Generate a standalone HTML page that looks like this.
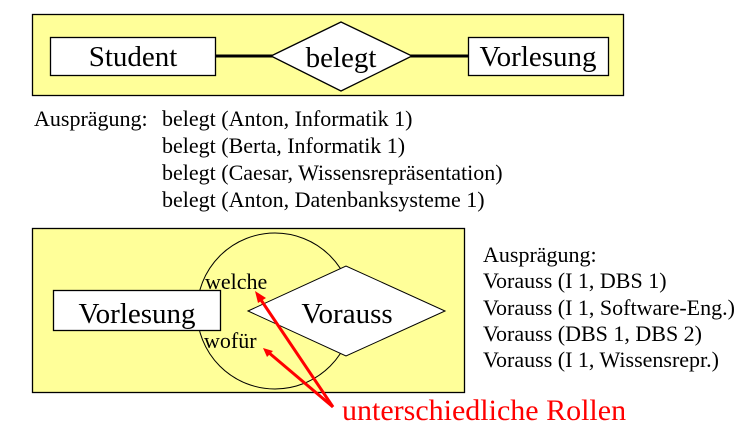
<!DOCTYPE html>
<html><head><meta charset="utf-8"><style>
body{margin:0;width:745px;height:441px;background:#fff;overflow:hidden}
</style></head><body>
<svg width="745" height="441" xmlns="http://www.w3.org/2000/svg" font-family="Liberation Serif, serif">
<rect x="32.5" y="14.5" width="591" height="81" fill="#ffff99" stroke="#000" stroke-width="1.3"/>
<line x1="215" y1="56" x2="468" y2="56" stroke="#000" stroke-width="3"/>
<rect x="50.5" y="37.5" width="165" height="38" fill="#fff" stroke="#000" stroke-width="1.3"/>
<polygon points="271,56 341,22 412,56 341,91" fill="#fff" stroke="#000" stroke-width="1.3"/>
<rect x="468.5" y="37.5" width="140" height="38" fill="#fff" stroke="#000" stroke-width="1.3"/>
<text x="133" y="66" font-size="29" text-anchor="middle">Student</text>
<text x="341" y="67" font-size="29" text-anchor="middle">belegt</text>
<text x="538" y="66" font-size="29" text-anchor="middle">Vorlesung</text>
<g font-size="22">
<text x="34" y="126">Ausprägung:</text>
<text x="162" y="126">belegt (Anton, Informatik 1)</text>
<text x="162" y="153">belegt (Berta, Informatik 1)</text>
<text x="162" y="180">belegt (Caesar, Wissensrepräsentation)</text>
<text x="162" y="207">belegt (Anton, Datenbanksysteme 1)</text>
<text x="483" y="262">Ausprägung:</text>
<text x="483" y="288">Vorauss (I 1, DBS 1)</text>
<text x="483" y="315">Vorauss (I 1, Software-Eng.)</text>
<text x="483" y="341">Vorauss (DBS 1, DBS 2)</text>
<text x="483" y="367">Vorauss (I 1, Wissensrepr.)</text>
</g>
<rect x="32.5" y="228.5" width="432" height="164" fill="#ffff99" stroke="#000" stroke-width="1.3"/>
<circle cx="275" cy="311" r="78" fill="none" stroke="#000" stroke-width="1"/>
<polygon points="248,311 346,266 445,311 346,356" fill="#fff" stroke="#000" stroke-width="1"/>
<rect x="53.5" y="290.5" width="167" height="40" fill="#fff" stroke="#000" stroke-width="1.3"/>
<text x="137" y="323" font-size="29" text-anchor="middle">Vorlesung</text>
<text x="347" y="323" font-size="29" text-anchor="middle">Vorauss</text>
<text x="205" y="289" font-size="22">welche</text>
<text x="204" y="348" font-size="22">wofür</text>
<g stroke="#f00" stroke-width="3" fill="#f00">
<line x1="333" y1="407" x2="259" y2="297"/>
<line x1="333" y1="407" x2="268" y2="352"/>
<polygon points="255,291 266,298 258,303" stroke="none"/>
<polygon points="263,348 273,351 267,357" stroke="none"/>
</g>
<text x="342" y="420" font-size="30" fill="#f00">unterschiedliche Rollen</text>
</svg>
</body></html>
